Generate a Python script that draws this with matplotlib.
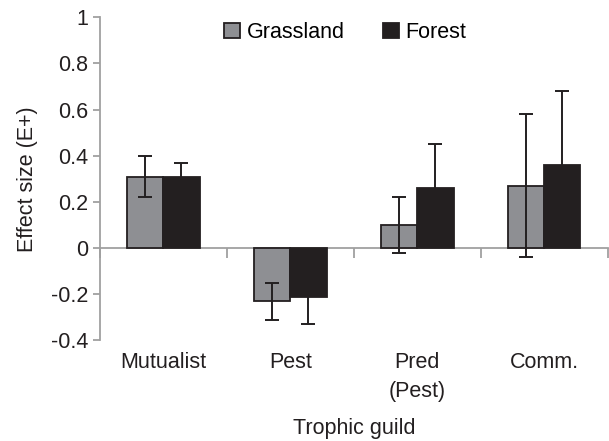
import matplotlib.pyplot as plt
import numpy as np

plt.rcParams['font.family'] = ['Liberation Sans', 'DejaVu Sans']

guilds = ['Mutualist', 'Pest', 'Pred\n(Pest)', 'Comm.']
grassland = [0.31, -0.23, 0.10, 0.27]
grassland_err = [0.09, 0.08, 0.12, 0.31]
forest = [0.31, -0.21, 0.26, 0.36]
forest_err = [0.06, 0.12, 0.19, 0.32]

fs = 15.5
fig = plt.figure(figsize=(6.09, 4.41), dpi=100)
ax = fig.add_axes([0.164, 0.228, 0.834, 0.733])

x = np.arange(len(guilds))
w = 0.285
axis_grey = '#a0a0a0'

ax.bar(x - w / 2, grassland, w, color='#8e8f93', edgecolor='#231f20', linewidth=1.3,
       label='Grassland', zorder=2)
ax.bar(x + w / 2, forest, w, color='#231f20', edgecolor='#231f20', linewidth=1.3,
       label='Forest', zorder=2)
ax.errorbar(x - w / 2, grassland, yerr=grassland_err, fmt='none', ecolor='#231f20',
            elinewidth=1.4, capsize=5, capthick=1.4, zorder=3)
ax.errorbar(x + w / 2, forest, yerr=forest_err, fmt='none', ecolor='#231f20',
            elinewidth=1.4, capsize=5, capthick=1.4, zorder=3)

ax.set_xlim(-0.5, len(guilds) - 0.5)
ax.set_ylim(-0.4, 1.0)
ax.set_yticks(np.arange(-0.4, 1.01, 0.2))
ax.set_yticklabels(['-0.4', '-0.2', '0', '0.2', '0.4', '0.6', '0.8', '1'])

for s in ['top', 'right', 'bottom']:
    ax.spines[s].set_visible(False)
ax.spines['left'].set_color(axis_grey)
ax.spines['left'].set_linewidth(1.3)
ax.tick_params(axis='y', colors=axis_grey, labelcolor='#231f20', labelsize=fs,
               length=5, width=1.3)

ax.set_xticks(x)
ax.set_xticklabels(guilds, linespacing=1.55)
ax.tick_params(axis='x', length=0, labelsize=fs, labelcolor='#231f20', pad=8)
ax.xaxis.set_label_coords(0.5, -0.24)

# zero line with category boundary ticks
zero_pos = 0.4 / 1.4
sec = ax.secondary_xaxis(zero_pos)
sec.set_xticks(np.arange(-0.5, len(guilds), 1.0))
sec.set_xticklabels([])
sec.spines['bottom'].set_color(axis_grey)
sec.spines['bottom'].set_linewidth(1.3)
sec.tick_params(axis='x', colors=axis_grey, length=7, width=1.3, direction='out')

ax.set_ylabel('Effect size (E+)', fontsize=fs, color='#231f20', labelpad=9)
ax.set_xlabel('Trophic guild', fontsize=fs, color='#231f20')

ax.legend(loc='upper center', bbox_to_anchor=(0.483, 1.045), ncol=2, frameon=False,
          fontsize=fs, handlelength=0.75, handleheight=0.75, handletextpad=0.3,
          columnspacing=1.75)

fig.savefig('out.png', dpi=100)
